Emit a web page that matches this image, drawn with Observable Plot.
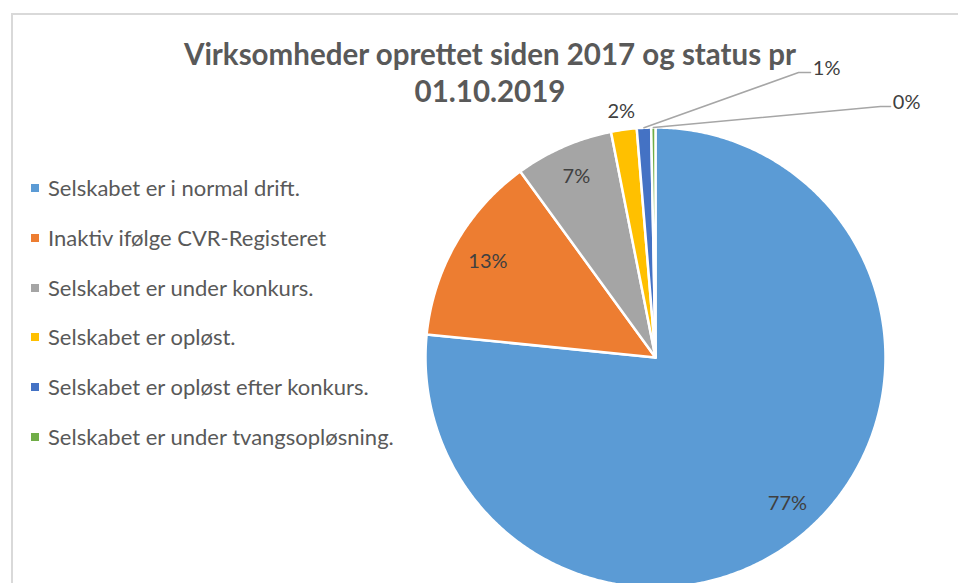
<!DOCTYPE html>
<html>
<head>
<meta charset="utf-8">
<script src="https://cdn.jsdelivr.net/npm/d3@7"></script>
<script src="https://cdn.jsdelivr.net/npm/@observablehq/plot@0.6"></script>
<style>
  html, body { margin: 0; padding: 0; background: #fff; overflow: hidden; }
  #wrap { position: relative; width: 958px; height: 583px; overflow: hidden; font-family: Lato, "Open Sans", sans-serif; }
  #frame { position: absolute; left: 11px; top: 13px; width: 1000px; height: 700px; border: 2px solid #D9D9D9; box-sizing: border-box; }
  #title { position: absolute; left: 0; width: 980px; top: 35px; text-align: center; font-weight: bold; font-size: 29.5px; line-height: 37px; color: #595959; }
  #chart { position: absolute; left: 0; top: 0; }
  #legend { position: absolute; left: 31px; top: 174px; color: #595959; font-size: 22px; }
  .item { height: 49.8px; display: flex; align-items: flex-start; }
  .sw { width: 8px; height: 8px; margin-right: 9px; margin-top: 10px; }
</style>
</head>
<body>
<div id="wrap">
  <div id="frame"></div>
  <div id="chart"></div>
  <div id="title">Virksomheder oprettet siden 2017 og status pr<br>01.10.2019</div>
  <div id="legend"></div>
</div>
<script>
// ---- data ----
const categories = [
  "Selskabet er i normal drift.",
  "Inaktiv ifølge CVR-Registeret",
  "Selskabet er under konkurs.",
  "Selskabet er opløst.",
  "Selskabet er opløst efter konkurs.",
  "Selskabet er under tvangsopløsning."
];
const values = [76.6, 13.4, 6.9, 1.8, 1.0, 0.3];
const pctLabels = ["77%", "13%", "7%", "2%", "1%", "0%"];
const colors = ["#5B9BD5", "#ED7D31", "#A5A5A5", "#FFC000", "#4472C4", "#70AD47"];

// ---- layout config (not data) ----
const labelRadius = [0.855, 0.84, 0.86, 1.08, null, null];
const callouts = {
  4: {elbow: [0.622, 1.239], end: [0.674, 1.239]},
  5: {elbow: [0.978, 1.091], end: [1.022, 1.091]}
};

const table = categories.map((c, i) => ({category: c, value: values[i], label: pctLabels[i], i}));
const arcs = d3.pie().sort(null).value(d => d.value).startAngle(0).endAngle(2 * Math.PI)(table);

// slice polygons
const poly = [];
for (const a of arcs) {
  poly.push({category: a.data.category, x: 0, y: 0});
  const n = Math.max(2, Math.ceil((a.endAngle - a.startAngle) / (Math.PI / 360)));
  for (let k = 0; k <= n; k++) {
    const t = a.startAngle + (a.endAngle - a.startAngle) * k / n;
    poly.push({category: a.data.category, x: Math.sin(t), y: Math.cos(t)});
  }
}

// labels
const textPts = [];
const leaders = [];
arcs.forEach((a, i) => {
  const mid = (a.startAngle + a.endAngle) / 2;
  if (labelRadius[i] != null) {
    textPts.push({x: labelRadius[i] * Math.sin(mid), y: labelRadius[i] * Math.cos(mid), label: a.data.label, anchor: "middle"});
  } else {
    const c = callouts[i];
    leaders.push({k: i, x: 1.0 * Math.sin(mid), y: 1.0 * Math.cos(mid)});
    leaders.push({k: i, x: c.elbow[0], y: c.elbow[1]});
    leaders.push({k: i, x: c.end[0], y: c.end[1]});
    textPts.push({x: c.end[0] + 0.01, y: c.end[1] + 0.018, label: a.data.label, anchor: "start"});
  }
});

const R = 230, cx = 655, cy = 357;
const chart = Plot.plot({
  width: 958,
  height: 583,
  margin: 0,
  x: {domain: [-1, 1], range: [cx - R, cx + R], axis: null},
  y: {domain: [-1, 1], range: [cy + R, cy - R], axis: null},
  color: {domain: categories, range: colors},
  style: {background: "transparent", overflow: "visible"},
  marks: [
    Plot.line(poly, {x: "x", y: "y", z: "category", fill: "category", stroke: "white", strokeWidth: 2.5, curve: "linear-closed"}),
    Plot.line(leaders, {x: "x", y: "y", z: "k", stroke: "#A6A6A6", strokeWidth: 1.5}),
    Plot.text(textPts.filter(d => d.anchor === "middle"), {x: "x", y: "y", text: "label", fill: "#404040", fontSize: 20, fontFamily: "Lato, 'Open Sans', sans-serif", textAnchor: "middle"}),
    Plot.text(textPts.filter(d => d.anchor === "start"), {x: "x", y: "y", text: "label", fill: "#404040", fontSize: 20, fontFamily: "Lato, 'Open Sans', sans-serif", textAnchor: "start"})
  ]
});
document.getElementById("chart").appendChild(chart);

// legend
const lg = document.getElementById("legend");
categories.forEach((c, i) => {
  const row = document.createElement("div");
  row.className = "item";
  const sw = document.createElement("div");
  sw.className = "sw";
  sw.style.background = colors[i];
  const tx = document.createElement("span");
  tx.textContent = c;
  row.appendChild(sw); row.appendChild(tx);
  lg.appendChild(row);
});
</script>
</body>
</html>
